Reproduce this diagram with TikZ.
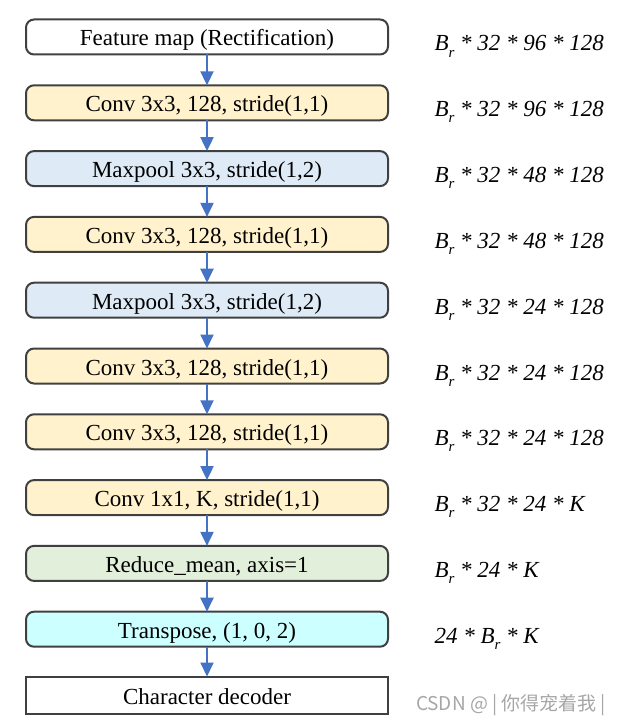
\documentclass[tikz,border=0pt]{standalone}
\usepackage{fontspec}
\setmainfont{Liberation Serif}
\newfontfamily\cjkfont{Noto Sans CJK SC}
\usetikzlibrary{arrows.meta,positioning,calc}
\definecolor{BorderClr}{RGB}{64,64,64}
\definecolor{ArrowClr}{RGB}{68,114,196}
\definecolor{ConvClr}{RGB}{255,242,204}
\definecolor{PoolClr}{RGB}{222,235,247}
\definecolor{MeanClr}{RGB}{226,239,218}
\definecolor{TransClr}{RGB}{204,255,255}
\newcommand{\Br}{B\raisebox{-6pt}{\fontsize{15}{15}\selectfont r}}

\begin{document}
\begin{tikzpicture}[x=1pt,y=1pt,
  layer/.style={draw=BorderClr,line width=2pt,rounded corners=8pt,
    minimum width=362pt,minimum height=35pt,inner sep=0pt,outer sep=0pt,
    text height=19pt,text depth=1pt,
    font=\fontsize{23}{27}\selectfont},
  dims/.style={anchor=base west,font=\fontsize{23}{27}\selectfont\itshape},
  flow/.style={ArrowClr,line width=2pt,-{Triangle[length=14pt,width=13pt]}},
  node distance=30.8pt]
\useasboundingbox (0,0) rectangle (626,-725);

\node[layer] (fmap) at (207,-37) {Feature map (Rectification)};
\node[layer,fill=ConvClr,below=of fmap] (conv1) {Conv 3x3, 128, stride(1,1)};
\node[layer,fill=PoolClr,below=of conv1] (pool1) {Maxpool 3x3, stride(1,2)};
\node[layer,fill=ConvClr,below=of pool1] (conv2) {Conv 3x3, 128, stride(1,1)};
\node[layer,fill=PoolClr,below=of conv2] (pool2) {Maxpool 3x3, stride(1,2)};
\node[layer,fill=ConvClr,below=of pool2] (conv3) {Conv 3x3, 128, stride(1,1)};
\node[layer,fill=ConvClr,below=of conv3] (conv4) {Conv 3x3, 128, stride(1,1)};
\node[layer,fill=ConvClr,below=of conv4] (conv5) {Conv 1x1, K, stride(1,1)};
\node[layer,fill=MeanClr,below=of conv5] (mean) {Reduce\_mean, axis=1};
\node[layer,fill=TransClr,below=of mean] (trans) {Transpose, (1, 0, 2)};
\node[layer,rounded corners=0pt,minimum height=37pt,below=29.8pt of trans] (dec) {Character decoder};

\draw[flow] (fmap) -- (conv1);
\draw[flow] (conv1) -- (pool1);
\draw[flow] (pool1) -- (conv2);
\draw[flow] (conv2) -- (pool2);
\draw[flow] (pool2) -- (conv3);
\draw[flow] (conv3) -- (conv4);
\draw[flow] (conv4) -- (conv5);
\draw[flow] (conv5) -- (mean);
\draw[flow] (mean) -- (trans);
\draw[flow] (trans) -- (dec);

% output sizes
\node[dims] (d0) at ($(fmap.east)+(43,-14)$) {\Br{} * 32 * 96 * 128};
\node[dims] (d1) at ($(conv1.east)+(43,-14)$) {\Br{} * 32 * 96 * 128};
\node[dims] (d2) at ($(pool1.east)+(43,-14)$) {\Br{} * 32 * 48 * 128};
\node[dims] (d3) at ($(conv2.east)+(43,-14)$) {\Br{} * 32 * 48 * 128};
\node[dims] (d4) at ($(pool2.east)+(43,-14)$) {\Br{} * 32 * 24 * 128};
\node[dims] (d5) at ($(conv3.east)+(43,-14)$) {\Br{} * 32 * 24 * 128};
\node[dims] (d6) at ($(conv4.east)+(43,-14)$) {\Br{} * 32 * 24 * 128};
\node[dims] (d7) at ($(conv5.east)+(43,-14)$) {\Br{} * 32 * 24 * K};
\node[dims] (d8) at ($(mean.east)+(43,-14)$) {\Br{} * 24 * K};
\node[dims] (d9) at ($(trans.east)+(43,-14)$) {24 * \Br{} * K};

\node[text=black!35,font=\cjkfont\fontsize{19}{22}\selectfont] (mark) at (511,-705) {CSDN @ | 你得宠着我 |};
\end{tikzpicture}
\end{document}
